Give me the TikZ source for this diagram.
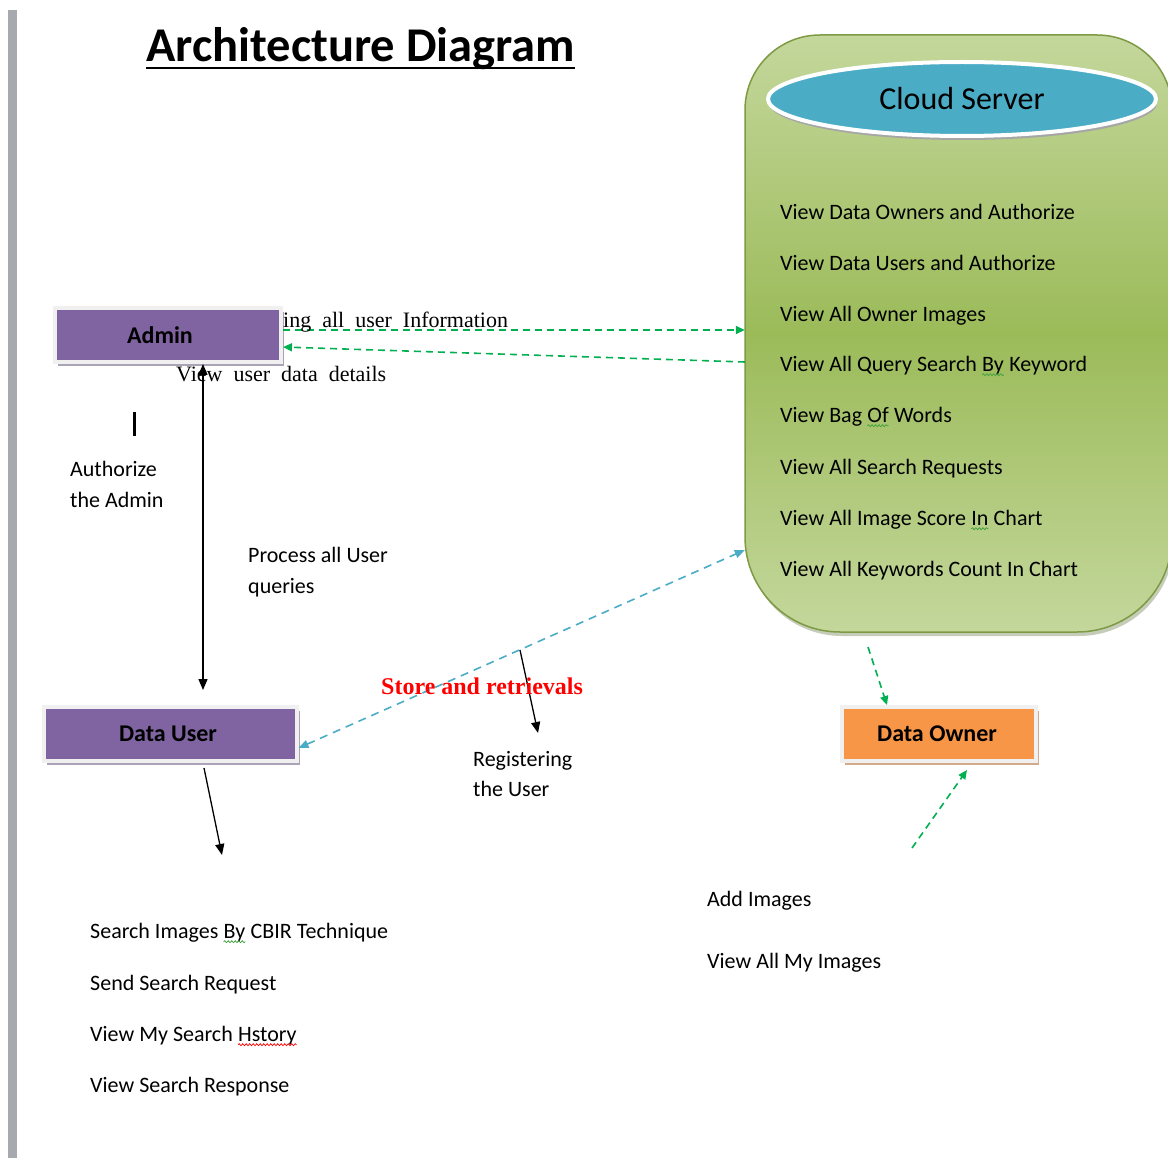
\documentclass[tikz,border=0pt]{standalone}
\usepackage{fontspec}
\setmainfont{Carlito}
\newfontfamily\serifface{Liberation Serif}
\usetikzlibrary{arrows.meta,calc,shapes.geometric,shadows,decorations.pathmorphing}

\definecolor{boxpurple}{HTML}{8064A2}
\definecolor{boxorange}{HTML}{F79646}
\definecolor{ellblue}{HTML}{4BACC6}
\definecolor{cloudlight}{HTML}{C4D79C}
\definecolor{clouddark}{HTML}{9BBB59}
\definecolor{cloudedge}{HTML}{7E9A45}
\definecolor{arrgreen}{HTML}{00B050}
\definecolor{arrblue}{HTML}{4BACC6}
\definecolor{framegray}{HTML}{F0F0F0}
\definecolor{bargray}{HTML}{A6AAAE}
\definecolor{purpleshadow}{HTML}{ABA3B6}
\definecolor{orangeshadow}{HTML}{D3AA8A}
\definecolor{spellgreen}{HTML}{3CA03C}

% wavy spell-check style underline under a word
\newcommand\squig[2]{\tikz[baseline=(w.base),x=1pt,y=1pt]{\node[inner sep=0pt,outer sep=0pt,anchor=base](w){#2};\draw[#1,line width=0.7pt,decorate,decoration={snake,amplitude=1pt,segment length=3.5pt}] ([yshift=-3.5pt]w.base west) -- ([yshift=-3.5pt]w.base east);}}

\tikzset{
  rolebox/.style={draw=framegray, line width=4pt, minimum height=54pt, inner sep=0pt,
    font=\fontsize{24}{28}\selectfont\bfseries, text=black},
  purplebox/.style={rolebox, fill=boxpurple,
    drop shadow={shadow xshift=3pt, shadow yshift=-4pt, fill=purpleshadow, opacity=1}},
  orangebox/.style={rolebox, fill=boxorange,
    drop shadow={shadow xshift=3pt, shadow yshift=-4pt, fill=orangeshadow, opacity=1}},
  lbl/.style={anchor=west, inner sep=0pt, align=left, font=\fontsize{22}{30.5}\selectfont},
  serlbl/.style={anchor=west, inner sep=0pt, font=\serifface\fontsize{22}{26}\selectfont},
  garrow/.style={draw=arrgreen, line width=1.6pt, dash pattern=on 7pt off 5pt,
    -{Triangle[length=9pt,width=8pt]}},
  barrow/.style={draw=arrblue, line width=1.6pt, dash pattern=on 8pt off 6pt,
    {Triangle[length=10pt,width=8pt]}-{Triangle[length=10pt,width=8pt]}},
  karrow/.style={draw=black, line width=1.3pt, -{Triangle[length=11pt,width=9pt]}},
}

\begin{document}
\begin{tikzpicture}[x=1pt,y=-1pt]
\useasboundingbox (0,0) rectangle (1168,1158);

% page margin bar
\fill[bargray] (8,10) rectangle (17,1158);

% title
\node[anchor=base west, inner sep=0pt, font=\fontsize{48.5}{56}\selectfont\bfseries] (title) at (146,62) {Architecture Diagram};
\draw[line width=2.5pt] ([yshift=-6pt]title.base west) -- ([yshift=-6pt]title.base east);

% cloud server container
\fill[cloudedge!70!black, opacity=0.35] (747,335) [rounded corners=75] -- (747,38) -- (1174,38) -- (1174,335)
  [rounded corners=95] -- (1174,636) -- (747,636) -- cycle;
\shade[top color=cloudlight, bottom color=cloudlight, middle color=clouddark, draw=cloudedge, line width=1.5pt]
  (745,333) [rounded corners=75] -- (745,35) -- (1172,35) -- (1172,333)
  [rounded corners=95] -- (1172,632) -- (745,632) -- cycle;
\node[rectangle, inner sep=0pt, minimum width=427pt, minimum height=597pt] (cloud) at (958.5,333.5) {};

\node[ellipse, minimum width=388pt, minimum height=74pt, fill=ellblue, draw=white, line width=4pt,
  drop shadow={shadow xshift=1pt, shadow yshift=-4pt, fill=black!35, opacity=1},
  font=\fontsize{32}{38}\selectfont] (cs) at (962,99) {Cloud Server};

\node[lbl] (c1) at (780,212) {View Data Owners and Authorize};
\node[lbl] (c2) at (780,263) {View Data Users and Authorize};
\node[lbl] (c3) at (780,316) {View All Owner Images};
\node[lbl] (c4) at (780,366) {View All Query Search \squig{spellgreen}{By} Keyword};
\node[lbl] (c5) at (780,417) {View Bag \squig{spellgreen}{Of} Words};
\node[lbl] (c6) at (780,469) {View All Search Requests};
\node[lbl] (c7) at (780,520) {View All Image Score \squig{spellgreen}{In} Chart};
\node[lbl] (c8) at (780,571) {View All Keywords Count In  Chart};

% role boxes (labels sit slightly left of centre)
\node[purplebox, minimum width=226pt] (admin) at (168,335) {Admin\kern16pt};
\node[purplebox, minimum width=253pt] (datauser) at (170,734) {Data User\kern4pt};
\node[orangebox, minimum width=194pt] (dataowner) at (939,734) {Data Owner\kern4pt};

% free ends of the connectors
\coordinate (dutop) at (203,690);
\coordinate (regtop) at (520,650);
\coordinate (regend) at (538,733);
\coordinate (ownertop) at (868,647);
\coordinate (ownerlow) at (912,848);
\coordinate (userlow) at (222,855);

% admin <-> cloud
\draw[garrow] ($(admin.east)+(0,-5)$) -- (cloud.west |- 0,330);
\draw[garrow] (cloud.west |- 0,362) -- ($(admin.east)+(0,12)$);

% admin <-> data user
\draw[karrow, {Triangle[length=11pt,width=9pt]}-{Triangle[length=11pt,width=9pt]}] (admin.south -| dutop) -- (dutop);
\draw[line width=3pt] (134,412) -- (134,436);

% data user <-> cloud
\draw[barrow] ($(datauser.east)+(0,14)$) -- (cloud.west |- 0,550);
\draw[karrow] (regtop) -- (regend);

% data owner
\draw[garrow] (ownertop) -- ($(dataowner.north)+(-52,0)$);
\draw[garrow] (ownerlow) -- ($(dataowner.south)+(28,7)$);

% data user
\draw[karrow] ($(datauser.south)+(34,5)$) -- (userlow);

% labels
\node[serlbl] (l1) at (283,322) {ing\ \ all\ \ user\ \ Information};
\node[serlbl] (l2) at (176,374) {View\ \ user\ \ data\ \ details};
\node[lbl] (l3) at (70,484.5) {Authorize\\the Admin};
\node[lbl] (l4) at (248,572) {Process all User\\queries};
\node[anchor=west, inner sep=0pt, text=red, font=\serifface\bfseries\fontsize{24}{28}\selectfont] (l5) at (381,686) {Store and retrievals};
\node[lbl] (l6) at (473,774) {Registering\\the User};

\node[lbl] (o1) at (707,901) {Add Images};
\node[lbl] (o2) at (707,963) {View All My Images};

\node[lbl] (u1) at (90,933) {Search Images \squig{spellgreen}{By} CBIR Technique};
\node[lbl] (u2) at (90,985) {Send Search Request};
\node[lbl] (u3) at (90,1036) {View My Search \squig{red}{Hstory}};
\node[lbl] (u4) at (90,1087) {View Search Response};
\end{tikzpicture}
\end{document}
